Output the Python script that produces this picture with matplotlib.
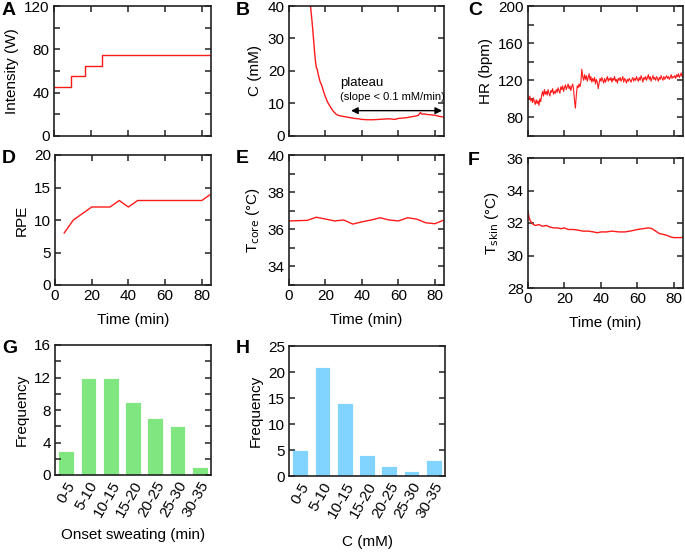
import matplotlib
matplotlib.use("Agg")
from matplotlib import pyplot as plt
from matplotlib.ticker import MultipleLocator

plt.rcParams['font.family'] = ['Liberation Sans', 'DejaVu Sans']
plt.rcParams['font.size'] = 11

# A - exercise intensity (step protocol)
int_time = [0, 9, 9, 17, 17, 26, 26, 85]
int_watt = [45, 45, 55, 55, 65, 65, 75, 75]

# B - sweat concentration
c_time = [11.8, 12.5, 13, 13.5, 14, 14.5, 15, 15.5, 16, 17, 18, 19, 20, 21, 22, 23, 24, 25, 26, 27,
          28, 30, 32, 34, 36, 38, 40, 43, 46, 49, 52, 55, 58, 60, 62, 64, 66, 68, 70, 71, 72, 73,
          74, 76, 78, 80, 82, 84, 85]
c_mm = [40, 36, 33, 29.5, 26, 23, 21, 20.5, 19, 16.8, 15.5, 13.6, 12, 10.6, 9.6, 8.7, 7.8, 7.2, 6.6, 6.4,
        6.2, 6.0, 5.8, 5.6, 5.4, 5.3, 5.1, 5.0, 5.0, 5.1, 5.2, 5.3, 5.1, 5.4, 5.5, 5.6, 5.8, 6.0, 6.2, 6.4, 7.2, 6.7,
        6.8, 6.6, 6.5, 6.4, 6.1, 5.9, 5.8]

# C - heart rate, 0.5 min samples
hr_bpm = [101, 99, 103, 98, 100, 96, 101, 97, 94, 99,
          95, 98, 93, 100, 97, 104, 108, 103, 110, 105,
          108, 104, 110, 106, 103, 109, 107, 111, 105, 108,
          106, 110, 107, 112, 109, 106, 113, 110, 114, 108,
          112, 115, 110, 113, 116, 111, 114, 109, 113, 116,
          110, 98, 90, 104, 114, 112, 116, 113, 118, 132,
          124, 120, 126, 121, 125, 119, 123, 127, 120, 124,
          118, 122, 119, 123, 116, 121, 118, 111, 117, 122,
          119, 123, 120, 117, 122, 118, 121, 124, 119, 122,
          120, 123, 118, 122, 120, 124, 119, 121, 117, 122,
          120, 123, 119, 121, 124, 118, 122, 120, 117, 121,
          119, 122, 120, 118, 121, 123, 119, 122, 120, 124,
          121, 119, 123, 120, 125, 122, 118, 123, 121, 124,
          120, 123, 126, 121, 124, 119, 122, 125, 121, 123,
          120, 124, 122, 119, 123, 121, 125, 122, 120, 124,
          121, 123, 125, 122, 124, 121, 123, 126, 122, 124,
          123, 125, 122, 126, 124, 127, 123, 125, 128, 124,
          125]
hr_time = [i * 0.5 for i in range(len(hr_bpm))]

# D - rating of perceived exertion
rpe_time = [5, 10, 15, 20, 25, 30, 35, 40, 45, 50, 55, 60, 65, 70, 75, 80, 85]
rpe_val = [8, 10, 11, 12, 12, 12, 13, 12, 13, 13, 13, 13, 13, 13, 13, 13, 14]

# E - core temperature
tc_time = [0, 10, 15, 20, 25, 30, 35, 40, 45, 50, 55, 60, 65, 70, 75, 80, 85]
tc_val = [36.45, 36.48, 36.65, 36.55, 36.45, 36.5, 36.28, 36.4, 36.5, 36.62, 36.5, 36.45, 36.62,
          36.55, 36.35, 36.3, 36.5]

# F - skin temperature
ts_time = [0, 0.5, 1, 2, 3, 4, 6, 8, 10, 12, 14, 16, 18, 20, 22, 25, 28, 30, 33, 36,
           38, 40, 43, 46, 50, 53, 56, 60, 63, 66, 68, 70, 72, 74, 76, 78, 80, 82, 84, 85]
ts_val = [32.7, 32.4, 32.2, 32.0, 31.9, 31.85, 31.9, 31.8, 31.85, 31.75, 31.7, 31.7, 31.65, 31.7,
          31.6, 31.6, 31.55, 31.5, 31.5, 31.45, 31.4, 31.45, 31.45, 31.5, 31.45, 31.45, 31.5, 31.6,
          31.65, 31.7, 31.65, 31.5, 31.35, 31.3, 31.25, 31.15, 31.1, 31.1, 31.1, 31.15]

# G, H - histograms
bins = ["0-5", "5-10", "10-15", "15-20", "20-25", "25-30", "30-35"]
onset_freq = [3, 12, 12, 9, 7, 6, 1]
conc_freq = [5, 21, 14, 4, 2, 1, 3]

RED = "#ff1a1a"
W, H = 685, 554


def make_ax(fig, x0, y_top, w=156, h=130):
    # pixel box -> figure fraction
    return fig.add_axes([x0 / W, 1 - (y_top + h) / H, w / W, h / H])


def style(ax, ymaj, ymin=None):
    for s in ax.spines.values():
        s.set_linewidth(1.2)
        s.set_color("#222222")
    ax.tick_params(which="both", direction="in", top=True, right=True, length=4,
                   width=1.1, color="#222222", labelsize=11, pad=3)
    ax.yaxis.set_major_locator(MultipleLocator(ymaj))
    if ymin:
        ax.yaxis.set_minor_locator(MultipleLocator(ymin))


def time_axis(ax, labels):
    ax.set_xlim(0, 85)
    ax.xaxis.set_major_locator(MultipleLocator(20))
    if labels:
        ax.set_xlabel("Time (min)", labelpad=7)
    else:
        ax.tick_params(labelbottom=False)


fig = plt.figure(figsize=(6.85, 5.54), dpi=100)

# row 1
axA = make_ax(fig, 54, 6, 157)
axA.step(int_time, int_watt, where="post", color=RED, lw=1)
axA.set_ylim(0, 120)
style(axA, 40, 20)
time_axis(axA, False)
axA.set_ylabel("Intensity (W)")

axB = make_ax(fig, 289, 6, 155)
axB.plot(c_time, c_mm, color=RED, lw=1)
axB.set_ylim(0, 40)
style(axB, 10)
time_axis(axB, False)
axB.set_ylabel("C (mM)")
axB.annotate("", xy=(32.5, 7.8), xytext=(85.5, 7.8),
             arrowprops=dict(arrowstyle="<|-|>", color="black", lw=1, mutation_scale=10),
             annotation_clip=False)
axB.text(28, 15.5, "plateau", fontsize=9.5)
axB.text(28, 11.2, "(slope < 0.1 mM/min)", fontsize=8)

axC = make_ax(fig, 528, 6, 155)
axC.plot(hr_time, hr_bpm, color=RED, lw=0.8)
axC.set_ylim(60, 200)
style(axC, 40, 20)
axC.set_yticks([80, 120, 160, 200])
time_axis(axC, False)
axC.set_ylabel("HR (bpm)")

# row 2
axD = make_ax(fig, 55, 155, 156)
axD.plot(rpe_time, rpe_val, color=RED, lw=1)
axD.set_ylim(0, 20)
style(axD, 5)
time_axis(axD, True)
axD.set_ylabel("RPE")

axE = make_ax(fig, 289, 155, 155)
axE.plot(tc_time, tc_val, color=RED, lw=1)
axE.set_ylim(33, 40)
style(axE, 2, 1)
axE.set_yticks([34, 36, 38, 40])
time_axis(axE, True)
axE.set_ylabel(r"T$_{\rm core}$ (°C)")

axF = make_ax(fig, 528, 158, 155)
axF.plot(ts_time, ts_val, color=RED, lw=1)
axF.set_ylim(28, 36)
style(axF, 2)
time_axis(axF, True)
axF.set_ylabel(r"T$_{\rm skin}$ (°C)")

# row 3
axG = make_ax(fig, 55, 345, 156)
axG.bar(range(len(bins)), onset_freq, width=0.7, color="#80e680", edgecolor="white", lw=0.6)
axG.set_xlim(-0.5, 6.5)
axG.set_ylim(0, 16)
style(axG, 4, 2)
axG.set_xticks(range(len(bins)))
axG.set_xticklabels(bins, rotation=60, ha="right", rotation_mode="anchor")
axG.tick_params(axis="x", top=False, bottom=False)
axG.set_ylabel("Frequency")
axG.set_xlabel("Onset sweating (min)", labelpad=6)

axH = make_ax(fig, 289, 346, 156)
axH.bar(range(len(bins)), conc_freq, width=0.7, color="#80d4ff", edgecolor="white", lw=0.6)
axH.set_xlim(-0.5, 6.5)
axH.set_ylim(0, 25)
style(axH, 5)
axH.set_xticks(range(len(bins)))
axH.set_xticklabels(bins, rotation=60, ha="right", rotation_mode="anchor")
axH.tick_params(axis="x", top=False, bottom=False)
axH.set_ylabel("Frequency")
axH.set_xlabel("C (mM)", labelpad=10)

# panel letters
for letter, px, py in [("A", 2, 2), ("B", 236, 2), ("C", 468, 2),
                       ("D", 2, 150), ("E", 236, 150), ("F", 468, 152),
                       ("G", 2, 340), ("H", 236, 340)]:
    fig.text(px / W, 1 - py / H, letter, fontsize=14, fontweight="bold", va="top")

fig.savefig("out.png", dpi=100)
